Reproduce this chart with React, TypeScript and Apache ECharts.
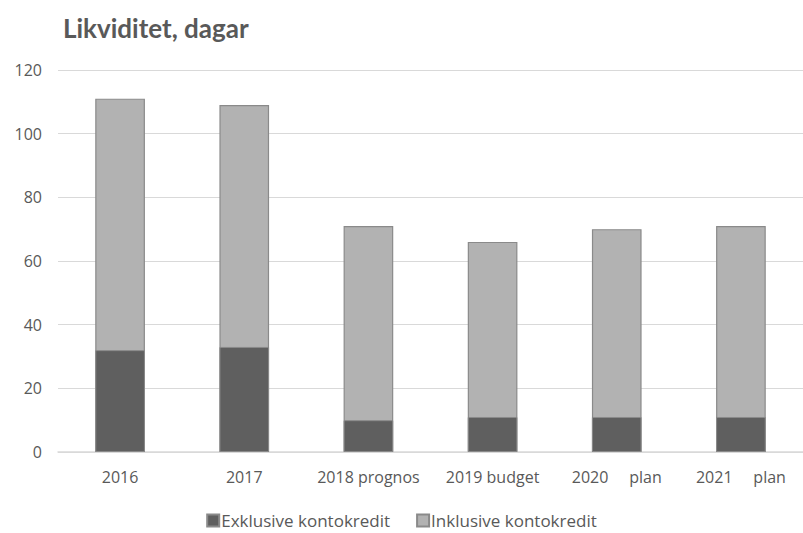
import React, { useEffect, useRef } from "react";
import * as echarts from "echarts";

const categories = ["2016", "2017", "2018 prognos", "2019 budget", "2020     plan", "2021     plan"];
const exklusive = [32, 33, 10, 11, 11, 11];
const inklusive = [111, 109, 71, 66, 70, 71];
const yTicks = { min: 0, max: 120, interval: 20 };

export default function App() {
  const ref = useRef<HTMLDivElement>(null);
  useEffect(() => {
    document.body.style.margin = "0";
    const chart = echarts.init(ref.current!, null, { renderer: "svg" });
    const font = "'Open Sans', 'Noto Sans', sans-serif";
    chart.setOption({
      animation: false,
      backgroundColor: "#ffffff",
      title: {
        text: "Likviditet, dagar",
        left: 58,
        top: 10,
        textStyle: { fontFamily: "Lato, sans-serif", fontWeight: "bold", fontSize: 26, color: "#595959" },
      },
      grid: { left: 58, right: 0, top: 70, bottom: 81, containLabel: false },
      legend: {
        data: ["Exklusive kontokredit", "Inklusive kontokredit"],
        top: 512,
        left: "center",
        padding: 0,
        itemWidth: 12,
        itemHeight: 12,
        itemGap: 26,
        icon: "rect",
        textStyle: { fontFamily: font, fontSize: 17, color: "#595959", padding: [0, 0, 0, -3] },
      },
      xAxis: {
        type: "category",
        data: categories,
        axisTick: { show: false },
        axisLine: { lineStyle: { color: "#d9d9d9", width: 1.5 } },
        axisLabel: { fontFamily: font, fontSize: 16, color: "#595959", margin: 17, interval: 0 },
      },
      yAxis: {
        type: "value",
        min: yTicks.min,
        max: yTicks.max,
        interval: yTicks.interval,
        axisLabel: { fontFamily: font, fontSize: 16, color: "#595959", margin: 16 },
        splitLine: { lineStyle: { color: "#d9d9d9", width: 1.2 } },
        axisLine: { show: false },
        axisTick: { show: false },
      },
      series: [
        {
          name: "Inklusive kontokredit",
          type: "bar",
          data: inklusive,
          barWidth: "40%",
          barGap: "-100%",
          itemStyle: { color: "#b2b2b2", borderColor: "#8a8a8a", borderWidth: 1.2 },
        },
        {
          name: "Exklusive kontokredit",
          type: "bar",
          data: exklusive,
          barWidth: "40%",
          barGap: "-100%",
          itemStyle: { color: "#5f5f5f", borderColor: "#8a8a8a", borderWidth: 1 },
        },
      ],
    });
    return () => chart.dispose();
  }, []);
  return <div ref={ref} style={{ width: 803, height: 533 }} />;
}
